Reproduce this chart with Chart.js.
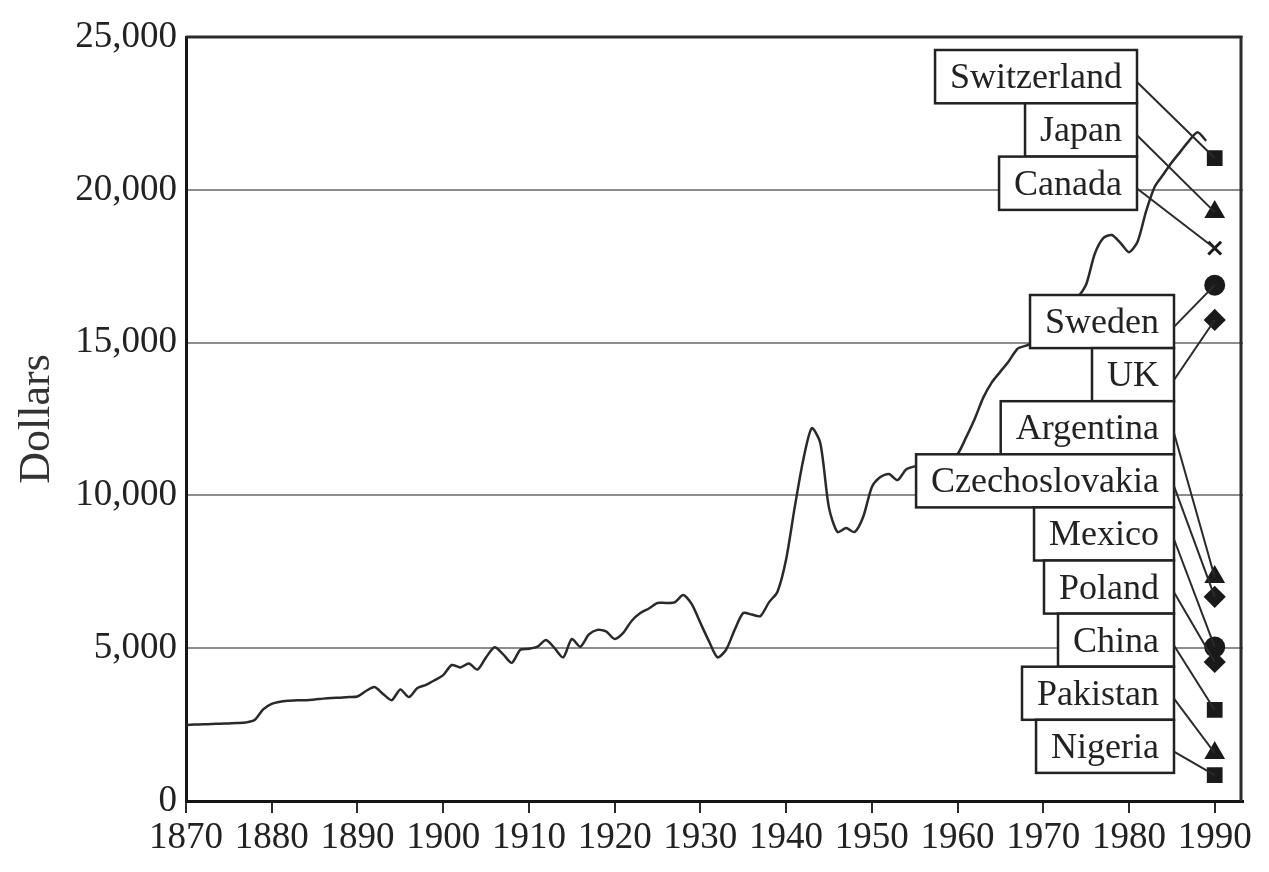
<!DOCTYPE html>
<html>
<head>
<meta charset="utf-8">
<title>Income per head, 1870-1990</title>
<script src="https://cdn.jsdelivr.net/npm/chart.js@4/dist/chart.umd.min.js"></script>
<style>
    html, body { margin: 0; padding: 0; background: #ffffff; }
    #wrap { width: 1269px; height: 872px; position: relative; }
</style>
</head>
<body>
<div id="wrap"><canvas id="incomeChart"></canvas></div>
<script>
/** --------------------DATA-------------------- */

const usYears = [
    1870, 1871, 1872, 1873, 1874, 1875, 1876, 1877, 1878, 1879,
    1880, 1881, 1882, 1883, 1884, 1885, 1886, 1887, 1888, 1889,
    1890, 1891, 1892, 1893, 1894, 1895, 1896, 1897, 1898, 1899,
    1900, 1901, 1902, 1903, 1904, 1905, 1906, 1907, 1908, 1909,
    1910, 1911, 1912, 1913, 1914, 1915, 1916, 1917, 1918, 1919,
    1920, 1921, 1922, 1923, 1924, 1925, 1926, 1927, 1928, 1929,
    1930, 1931, 1932, 1933, 1934, 1935, 1936, 1937, 1938, 1939,
    1940, 1941, 1942, 1943, 1944, 1945, 1946, 1947, 1948, 1949,
    1950, 1951, 1952, 1953, 1954, 1955, 1956, 1957, 1958, 1959,
    1960, 1961, 1962, 1963, 1964, 1965, 1966, 1967, 1968, 1969,
    1970, 1971, 1972, 1973, 1974, 1975, 1976, 1977, 1978, 1979,
    1980, 1981, 1982, 1983, 1984, 1985, 1986, 1987, 1988, 1989
];

const usIncome = [
    2490, 2500, 2510, 2520, 2530, 2540, 2550, 2570, 2650, 3000,
    3180, 3250, 3280, 3300, 3300, 3320, 3350, 3370, 3380, 3400,
    3420, 3600, 3730, 3500, 3300, 3650, 3400, 3700, 3800, 3950,
    4120, 4450, 4370, 4500, 4300, 4700, 5030, 4800, 4520, 4950,
    4980, 5050, 5270, 5000, 4700, 5300, 5050, 5450, 5600, 5550,
    5300, 5500, 5900, 6150, 6300, 6480, 6480, 6500, 6740, 6440,
    5830, 5230, 4700, 4950, 5600, 6150, 6100, 6050, 6500, 6850,
    7900, 9600, 11160, 12200, 11700, 9600, 8800, 8930, 8800, 9300,
    10270, 10600, 10700, 10500, 10850, 10950, 11000, 11050, 10950, 11200,
    11350, 11900, 12500, 13200, 13700, 14050, 14400, 14800, 14900, 15000,
    15000, 15300, 15900, 16500, 16500, 16900, 17900, 18420, 18520, 18260,
    17960, 18300, 19300, 20100, 20500, 20900, 21250, 21600, 21880, 21600
];

const countries = ['Switzerland', 'Japan', 'Canada',
    'Sweden', 'UK', 'Argentina', 'Czechoslovakia', 'Mexico',
    'Poland', 'China', 'Pakistan', 'Nigeria'];
const income1990 = [21040, 19270, 18090,
    16880, 15740, 7330, 6680, 5040,
    4550, 2980, 1570, 850];
const markerYear = 1990;

const xTickYears = [1870, 1880, 1890, 1900, 1910, 1920, 1930, 1940, 1950, 1960, 1970, 1980, 1990];
const yTickValues = [0, 5000, 10000, 15000, 20000, 25000];

/** --------------------END DATA-------------------- */

const markerShapes = ['rect', 'triangle', 'crossRot',
    'circle', 'rectRot', 'triangle', 'rectRot', 'circle',
    'rectRot', 'rect', 'triangle', 'rect'];

const ink = '#222222';
const serif = "'Liberation Serif', 'DejaVu Serif', serif";

Chart.defaults.font.family = serif;
Chart.defaults.color = ink;

/** Labels sit in two stacks of boxes, to the left of the 1990 column */
const labelStacks = [
    {first: 0, count: 3, rightInset: 106, top: 50, rowHeight: 53.3},
    {first: 3, count: 9, rightInset: 69, top: 295, rowHeight: 53.1}
];

const frame = {
    id: 'frame',
    afterDatasetsDraw(chart) {
        const {ctx, chartArea} = chart;
        ctx.save();
        ctx.strokeStyle = '#2b2b2b';
        ctx.lineWidth = 3;
        ctx.beginPath();
        ctx.moveTo(chartArea.left, chartArea.top);
        ctx.lineTo(chartArea.right - 2, chartArea.top);
        ctx.lineTo(chartArea.right - 2, chartArea.bottom);
        ctx.stroke();
        ctx.restore();
    }
};

const countryLabels = {
    id: 'countryLabels',
    afterDatasetsDraw(chart) {
        const {ctx, chartArea, scales} = chart;
        ctx.save();
        ctx.font = '36px ' + serif;
        ctx.textAlign = 'right';
        ctx.textBaseline = 'middle';

        labelStacks.forEach(stack => {
            let right = chartArea.right - stack.rightInset;
            for (let k = 0; k < stack.count; k++) {
                let i = stack.first + k;
                let top = stack.top + k * stack.rowHeight;
                let w = ctx.measureText(countries[i]).width + 30;

                ctx.fillStyle = '#ffffff';
                ctx.fillRect(right - w, top, w, stack.rowHeight);
                ctx.strokeStyle = ink;
                ctx.lineWidth = 2.5;
                ctx.strokeRect(right - w, top, w, stack.rowHeight);

                ctx.fillStyle = ink;
                ctx.fillText(countries[i], right - 15, top + stack.rowHeight / 2 + 2);

                /** leader line to the 1990 marker */
                let mx = scales.x.getPixelForValue(markerYear);
                let my = scales.y.getPixelForValue(income1990[i]);
                ctx.strokeStyle = '#2a2a2a';
                ctx.lineWidth = 2;
                ctx.beginPath();
                ctx.moveTo(right, top + stack.rowHeight * 0.6);
                ctx.lineTo(mx, my);
                ctx.stroke();
            }
        });
        ctx.restore();
    }
};

const ctx = document.getElementById('incomeChart').getContext('2d');
const incomeChart = new Chart(ctx, {
    type: 'scatter',
    data: {
        datasets: [
            {
                type: 'line',
                label: 'United States',
                data: usYears.map((yr, i) => ({x: yr, y: usIncome[i]})),
                borderColor: '#2a2a2a',
                borderWidth: 2.5,
                pointRadius: 0,
                tension: 0.25,
                fill: false,
                order: 2
            },
            {
                label: '1990',
                data: income1990.map(v => ({x: markerYear, y: v})),
                pointStyle: markerShapes,
                pointRadius: 9,
                backgroundColor: '#1a1a1a',
                borderColor: '#1a1a1a',
                borderWidth: 3,
                order: 1
            }
        ]
    },
    options: {
        responsive: true,
        maintainAspectRatio: false,
        animation: false,
        layout: {
            padding: {top: 37, right: 26, bottom: 0, left: 0}
        },
        plugins: {
            legend: {display: false},
            tooltip: {enabled: false}
        },
        scales: {
            x: {
                type: 'linear',
                min: 1870,
                max: 1993.3,
                afterBuildTicks: function (scale) {
                    scale.ticks = xTickYears.map(v => ({value: v}));
                },
                afterFit: function (scale) {
                    scale.height = 71;
                },
                ticks: {
                    autoSkip: false,
                    maxRotation: 0,
                    padding: 3,
                    color: ink,
                    font: {size: 37},
                    callback: v => String(v)
                },
                grid: {
                    drawOnChartArea: false,
                    drawTicks: true,
                    tickLength: 12,
                    color: '#2b2b2b',
                    lineWidth: 2
                },
                border: {display: true, color: '#151515', width: 3}
            },
            y: {
                min: 0,
                max: 25000,
                afterBuildTicks: function (scale) {
                    scale.ticks = yTickValues.map(v => ({value: v}));
                },
                afterFit: function (scale) {
                    scale.width = 186;
                },
                ticks: {
                    padding: 9,
                    color: ink,
                    font: {size: 37},
                    callback: v => v.toLocaleString('en-US')
                },
                grid: {
                    drawTicks: false,
                    color: '#8c8c8c',
                    lineWidth: 2
                },
                border: {display: true, color: '#151515', width: 3},
                title: {
                    display: true,
                    text: 'Dollars',
                    color: '#333333',
                    font: {size: 44},
                    padding: {top: 11, bottom: 0}
                }
            }
        }
    },
    plugins: [frame, countryLabels]
});
</script>
</body>
</html>
